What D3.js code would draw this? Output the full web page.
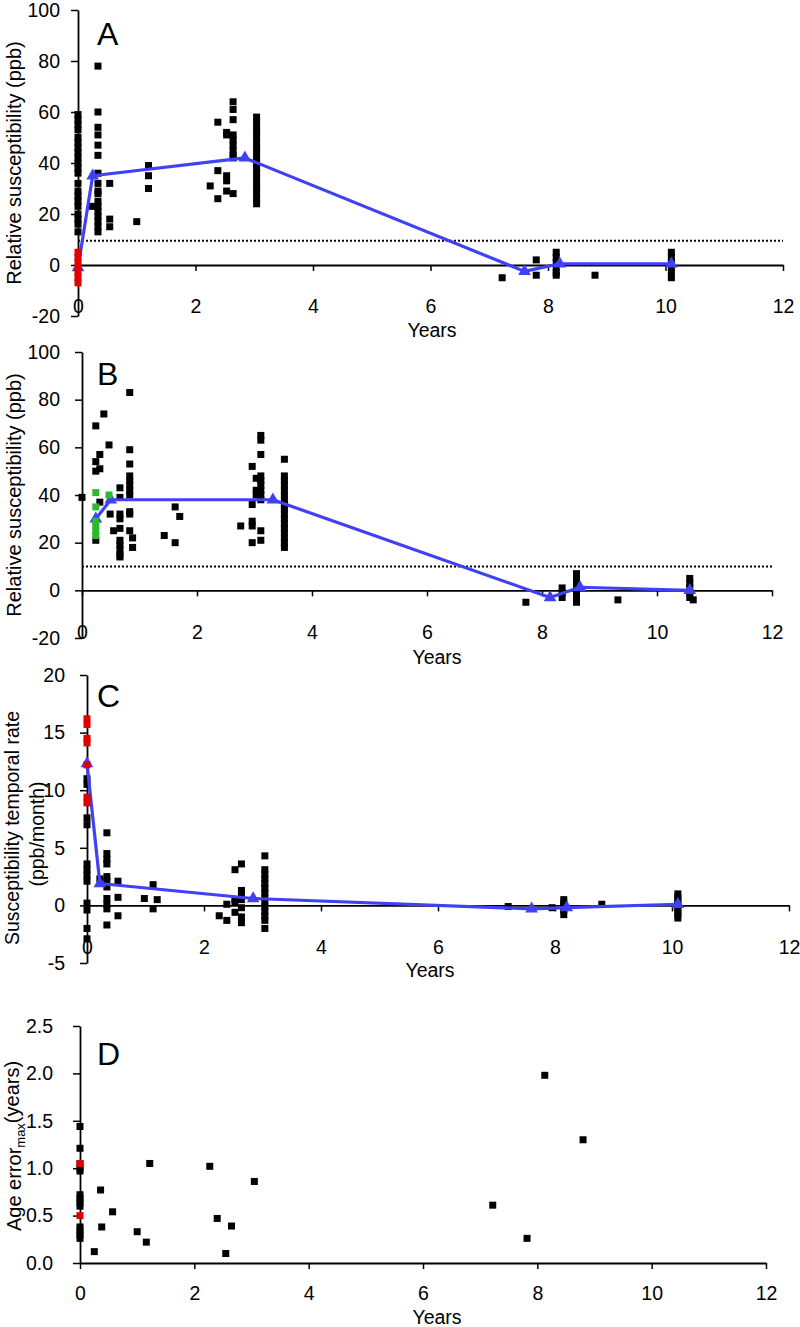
<!DOCTYPE html>
<html><head><meta charset="utf-8">
<script src="https://cdn.jsdelivr.net/npm/d3@7"></script>
<style>body{margin:0;background:#fff}svg{display:block}</style>
</head><body>
<script>
// ---------- DATA ----------
const xTicks = [0, 2, 4, 6, 8, 10, 12];
const yTicksAB = [-20, 0, 20, 40, 60, 80, 100];
const yTicksC = [-5, 0, 5, 10, 15, 20];
const yTicksD = [0, 0.5, 1.0, 1.5, 2.0, 2.5];

// [year, [values...]]
const aBlack = [
  [0, [59, 57, 55, 53, 50, 48, 46, 44, 42, 40, 38, 36, 32, 29, 27, 25, 23, 20, 18, 16, 13]],
  [0.24, [23]],
  [0.34, [78, 60, 54, 51, 47, 43, 36, 32, 29, 28, 25, 23, 21, 19, 17, 15, 13]],
  [0.54, [32, 18, 15]],
  [1.0, [17]],
  [1.2, [39, 35, 30]],
  [2.25, [31]],
  [2.38, [56, 37, 26]],
  [2.53, [52, 51, 35, 33, 29]],
  [2.64, [64, 61, 57, 51, 49, 47, 45, 43, 42, 28]],
  [3.04, [58, 56, 54, 52, 50, 48, 46, 44, 42, 40, 38, 36, 34, 32, 30, 28, 26, 24]],
  [7.22, [-5]],
  [7.8, [2, -4]],
  [8.14, [5, 3, 1, -1, -3, -4]],
  [8.8, [-4]],
  [10.1, [5, 3, 1, -1, -3, -5]]
];
const aRed = [[0, [5, 3, 1, -1, -3, -5, -7]]];
const aMeanX = [0, 0.25, 2.84, 7.6, 8.2, 10.1];
const aMeanY = [-1, 35, 42, -2.5, 0.5, 0.5];
const aThreshold = 9.5;

const bBlack = [
  [0, [39]],
  [0.24, [69, 54, 50, 21]],
  [0.31, [57, 51, 37]],
  [0.38, [74]],
  [0.47, [61]],
  [0.49, [32]],
  [0.55, [25]],
  [0.66, [43, 39, 32, 30, 26, 21, 19, 17, 15, 14]],
  [0.83, [83, 59, 53, 48, 46, 44, 42, 40, 33, 32, 25]],
  [0.88, [22, 18]],
  [1.43, [23]],
  [1.62, [35, 20]],
  [1.7, [31]],
  [2.76, [27]],
  [2.96, [52, 36, 29, 27, 20]],
  [3.03, [47, 42, 40]],
  [3.11, [65, 63, 57, 48, 46, 44, 42, 40, 38, 25, 21]],
  [3.52, [55, 48, 46, 44, 42, 40, 38, 36, 34, 32, 30, 28, 26, 24, 22, 20, 18]],
  [7.72, [-5]],
  [8.35, [1, -1, -3]],
  [8.6, [7, 5, 3, 1, -1, -3, -5]],
  [9.32, [-4]],
  [10.57, [5, 3, 1, -1, -3]],
  [10.63, [-4]]
];
const bGreen = [[0.24, [41, 35, 29, 27, 25, 23]], [0.47, [40]]];
const bMeanX = [0.24, 0.5, 3.32, 8.14, 8.66, 10.57];
const bMeanY = [30, 38, 38, -3, 1.3, 0];
const bThreshold = 10;

const cBlack = [
  [0, [11, 10.5, 7.6, 7.0, 3.6, 3.1, 2.6, 2.1, 0.2, -0.4, -2, -2.9]],
  [0.22, [2.3]],
  [0.34, [6.3, 4.5, 4, 3.6, 2.5, 2.1, 1.6, 0.6, 0.1, -0.3, -1.7]],
  [0.53, [2.1, 0.7, -0.9]],
  [0.98, [0.6]],
  [1.13, [1.8, -0.3]],
  [1.2, [0.5]],
  [2.26, [-0.9]],
  [2.39, [0.1, -1.3]],
  [2.53, [3.1, 0.5, 0.3, -0.6]],
  [2.64, [3.6, 1.3, 0.9, 0.5, -0.2, -1, -1.5]],
  [3.04, [4.3, 3.1, 2.7, 2.3, 1.9, 1.5, 1.1, 0.7, 0.3, -0.1, -0.5, -0.9, -1.3, -2]],
  [7.2, [-0.1]],
  [7.95, [-0.2]],
  [8.15, [0.5, 0.2, -0.1, -0.4, -0.8]],
  [8.8, [0.1]],
  [10.1, [1, 0.7, 0.4, 0.1, -0.2, -0.5, -0.8, -1.1]]
];
const cRed = [[0, [16.2, 15.7, 14.5, 14.1, 12.2, 9.4, 8.9]]];
const cMeanX = [0, 0.22, 2.84, 7.6, 8.2, 10.1];
const cMeanY = [12.3, 1.9, 0.6, -0.3, -0.2, 0.1];

const dBlack = [
  [0, [1.44, 1.21, 1.05, 1.0, 0.97, 0.72, 0.68, 0.64, 0.6, 0.38, 0.34, 0.3, 0.26]],
  [0.25, [0.12]], [0.36, [0.77]], [0.38, [0.38]], [0.57, [0.54]],
  [1.0, [0.33]], [1.16, [0.22]], [1.22, [1.05]],
  [2.27, [1.02]], [2.4, [0.47]], [2.55, [0.1]], [2.65, [0.39]], [3.05, [0.86]],
  [7.22, [0.61]], [7.82, [0.26]], [8.13, [1.98]], [8.8, [1.3]]
];
const dRed = [[0, [1.05, 0.5]]];

// ---------- LAYOUT ----------
const W = 800, H = 1327;
const FONT = "'Liberation Sans', Arial, sans-serif";
const BLUE = "#4040f5", RED = "#e00000", GREEN = "#2db82d";

const svg = d3.select("body").append("svg").attr("width", W).attr("height", H)
  .style("font-family", FONT);

function flat(groups) {
  const out = [];
  groups.forEach(([x, ys]) => ys.forEach(y => out.push([x, y])));
  return out;
}
const plain = d => String(d);

function panel(cfg) {
  const x = d3.scaleLinear().domain([0, 12]).range(cfg.xr);
  const y = d3.scaleLinear().domain(cfg.yd).range(cfg.yr);
  const g = svg.append("g");
  const axisY = y(0);

  if (cfg.threshold != null) {
    g.append("line").attr("x1", x(0)).attr("x2", x(12))
      .attr("y1", y(cfg.threshold)).attr("y2", y(cfg.threshold))
      .attr("stroke", "#000").attr("stroke-width", 2).attr("stroke-dasharray", "2,2");
  }

  const ya = g.append("g").attr("transform", `translate(${x(0)},0)`)
    .call(d3.axisLeft(y).tickValues(cfg.yt).tickSize(7).tickSizeOuter(0)
      .tickFormat(cfg.yfmt || plain));
  ya.select(".domain").attr("stroke-width", 1.8);
  ya.selectAll(".tick line").attr("stroke-width", 1.5);
  ya.selectAll(".tick text").attr("x", cfg.labelRight - x(0)).attr("font-size", 19.5)
    .attr("font-family", FONT).attr("fill", "#000");

  const xa = g.append("g").attr("transform", `translate(0,${axisY})`)
    .call(d3.axisBottom(x).tickValues(xTicks).tickSize(6).tickSizeOuter(0).tickFormat(plain));
  xa.select(".domain").attr("stroke-width", 1.8);
  xa.selectAll(".tick line").attr("stroke-width", 1.5);
  xa.selectAll(".tick text").attr("y", cfg.xLabelY - axisY).attr("dy", "0.35em")
    .attr("font-size", 19.5).attr("font-family", FONT).attr("fill", "#000");

  g.append("text").attr("x", cfg.yearsX).attr("y", cfg.yearsY).attr("dy", "0.35em")
    .attr("text-anchor", "middle").attr("font-size", 19.5).text("Years");

  g.append("text").attr("x", cfg.letterX).attr("y", cfg.letterY)
    .attr("font-size", 32).text(cfg.letter);

  const sq = 7;
  const drawSquares = (data, color) => {
    g.append("g").selectAll("rect").data(flat(data)).join("rect")
      .attr("x", d => x(d[0]) - sq / 2).attr("y", d => y(d[1]) - sq / 2)
      .attr("width", sq).attr("height", sq).attr("fill", color);
  };
  drawSquares(cfg.black, "#000");

  if (cfg.meanX) {
    const pts = cfg.meanX.map((v, i) => [v, cfg.meanY[i]]);
    g.append("path").datum(pts)
      .attr("d", d3.line().x(d => x(d[0])).y(d => y(d[1])))
      .attr("fill", "none").attr("stroke", BLUE).attr("stroke-width", 3.2)
      .attr("stroke-linejoin", "round");
    g.append("g").selectAll("path").data(pts).join("path")
      .attr("d", d3.symbol().type(d3.symbolTriangle).size(70))
      .attr("transform", d => `translate(${x(d[0])},${y(d[1])})`)
      .attr("fill", BLUE);
  }
  if (cfg.red) drawSquares(cfg.red, RED);
  if (cfg.green) drawSquares(cfg.green, GREEN);
  return { x, y, g };
}

panel({ xr: [78, 783], yd: [-20, 100], yr: [316, 10], yt: yTicksAB, labelRight: 60,
  xLabelY: 306, yearsX: 432, yearsY: 330, letter: "A", letterX: 97, letterY: 45,
  threshold: aThreshold, black: aBlack, red: aRed, meanX: aMeanX, meanY: aMeanY });

panel({ xr: [82, 772], yd: [-20, 100], yr: [638, 352], yt: yTicksAB, labelRight: 60,
  xLabelY: 632, yearsX: 437, yearsY: 657, letter: "B", letterX: 97, letterY: 385,
  threshold: bThreshold, black: bBlack, green: bGreen, meanX: bMeanX, meanY: bMeanY });

panel({ xr: [87, 789], yd: [-5, 20], yr: [963, 675], yt: yTicksC, labelRight: 65,
  xLabelY: 947, yearsX: 430, yearsY: 970, letter: "C", letterX: 97, letterY: 707,
  black: cBlack, red: cRed, meanX: cMeanX, meanY: cMeanY });

panel({ xr: [80, 766], yd: [0, 2.5], yr: [1263, 1026], yt: yTicksD, labelRight: 53,
  yfmt: d3.format(".1f"),
  xLabelY: 1293, yearsX: 437, yearsY: 1317, letter: "D", letterX: 97, letterY: 1065,
  black: dBlack, red: dRed });

function vText(cx, cy, txt, fs) {
  return svg.append("text").attr("transform", `translate(${cx},${cy}) rotate(-90)`)
    .attr("text-anchor", "middle").attr("dy", "0.35em").attr("font-size", fs || 20).text(txt);
}
vText(14, 163, "Relative susceptibility (ppb)");
vText(14, 495, "Relative susceptibility (ppb)");
vText(12, 828, "Susceptibility temporal rate", 19.5);
vText(37, 834, "(ppb/month)", 19.5);
const dl = svg.append("text").attr("transform", "translate(14,1146) rotate(-90)")
  .attr("text-anchor", "middle").attr("dy", "0.35em").attr("font-size", 20);
dl.append("tspan").text("Age error");
dl.append("tspan").attr("font-size", 13).attr("dy", "0.3em").text("max");
dl.append("tspan").attr("dy", "-0.3em").text("(years)");
</script>
</body></html>
